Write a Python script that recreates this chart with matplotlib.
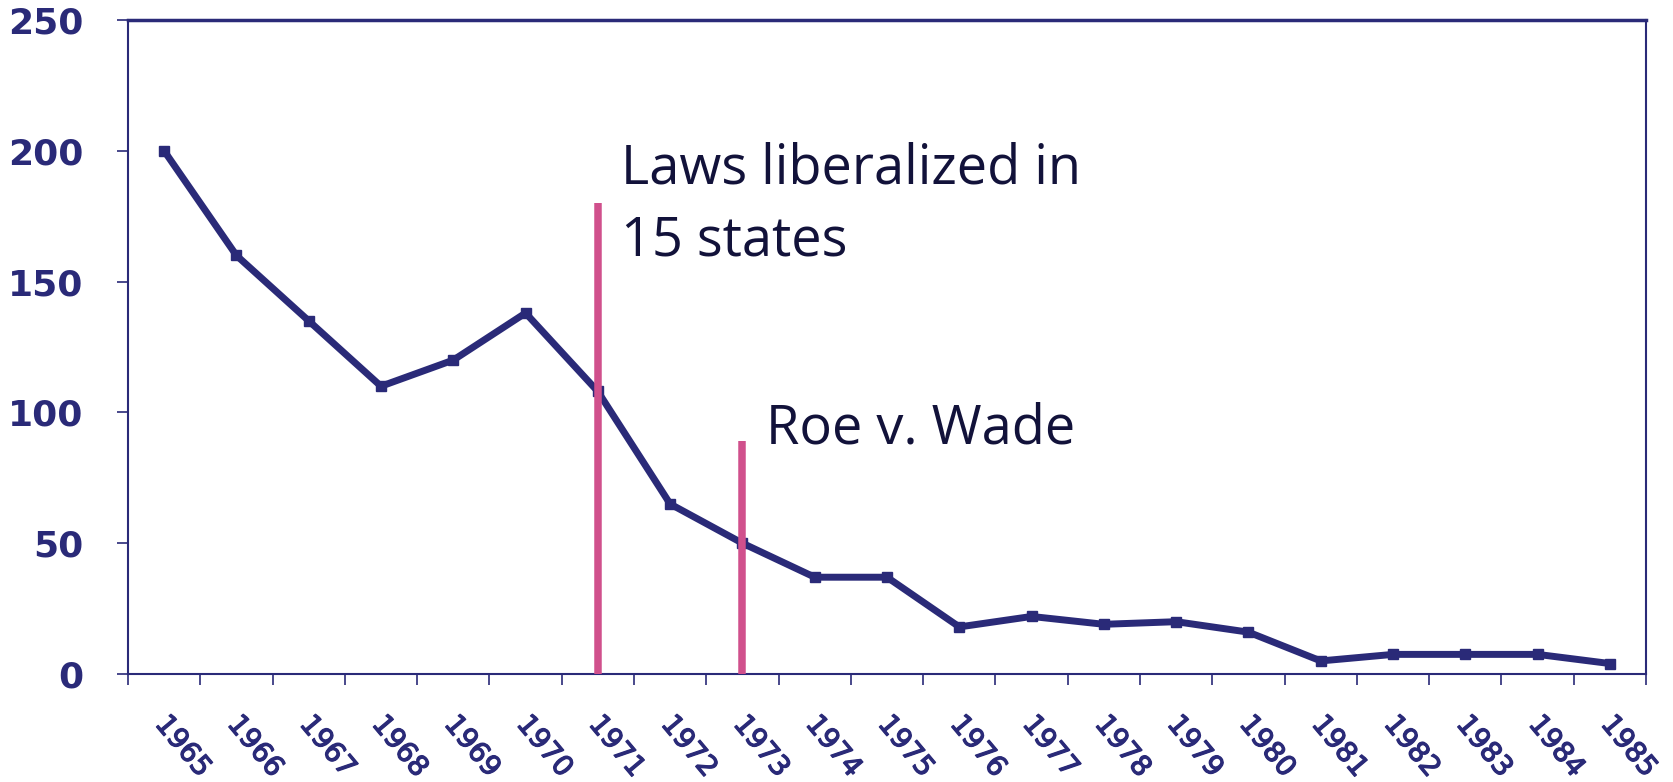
import matplotlib.pyplot as plt
import matplotlib.patheffects as pe
from matplotlib.transforms import ScaledTranslation

# donnees
years = [str(y) for y in range(1965, 1986)]
deaths = [200, 160, 135, 110, 120, 138, 108, 65, 50, 37, 37,
          18, 22, 19, 20, 16, 5, 7.5, 7.5, 7.5, 4]

# evenements marques par une barre rose
event_years = ["1971", "1973"]
event_heights = [180, 89]

navy = "#2A2A78"
pink = "#D0508C"
textcol = "#12123A"

fig = plt.figure(figsize=(16.73, 7.82), dpi=100)
ax = fig.add_axes([0.0765, 0.1381, 0.9074, 0.8363])

x = list(range(len(years)))
ax.plot(x, deaths, color=navy, lw=5, marker="s", ms=7, zorder=3)

for yr, h in zip(event_years, event_heights):
    i = years.index(yr)
    ax.vlines(i, 0, h, color=pink, lw=5.4, zorder=4)

# annotations
ax.text(6.32, 187.5, "Laws liberalized in", fontsize=39, family="Open Sans",
        color=textcol, va="baseline")
ax.text(6.32, 160, "15 states", fontsize=39, family="Open Sans",
        color=textcol, va="baseline")
ax.text(8.32, 88.3, "Roe v. Wade", fontsize=39, family="Open Sans",
        color=textcol, va="baseline")

ax.set_xlim(-0.5, len(years) - 0.5)
ax.set_ylim(0, 250)

# axe y
ax.set_yticks([0, 50, 100, 150, 200, 250])
ax.tick_params(axis="y", length=8, width=1.2, color=navy, pad=24,
               labelsize=26, labelcolor=navy)
for lab in ax.get_yticklabels():
    lab.set_fontweight("bold")

# axe x : traits entre les categories, etiquettes au centre
ax.set_xticks([i - 0.5 for i in range(len(years) + 1)])
ax.set_xticklabels([])
ax.set_xticks(x, minor=True)
ax.set_xticklabels(years, minor=True, rotation=-50, ha="left", va="top",
                   rotation_mode="anchor", fontsize=20, color=navy)
ax.tick_params(axis="x", which="major", length=8, width=1.2, color=navy)
ax.tick_params(axis="x", which="minor", length=0, pad=26)

# un peu plus gras et decale vers la droite
shift = ScaledTranslation(5 / 72, 0, fig.dpi_scale_trans)
for lab in ax.get_xticklabels(minor=True):
    lab.set_path_effects([pe.withStroke(linewidth=0.9, foreground=navy)])
    lab.set_transform(lab.get_transform() + shift)

for side in ["left", "bottom", "right"]:
    ax.spines[side].set_color(navy)
    ax.spines[side].set_linewidth(1.5)
ax.spines["top"].set_color(navy)
ax.spines["top"].set_linewidth(2.5)

fig.savefig("out.png", dpi=100)
